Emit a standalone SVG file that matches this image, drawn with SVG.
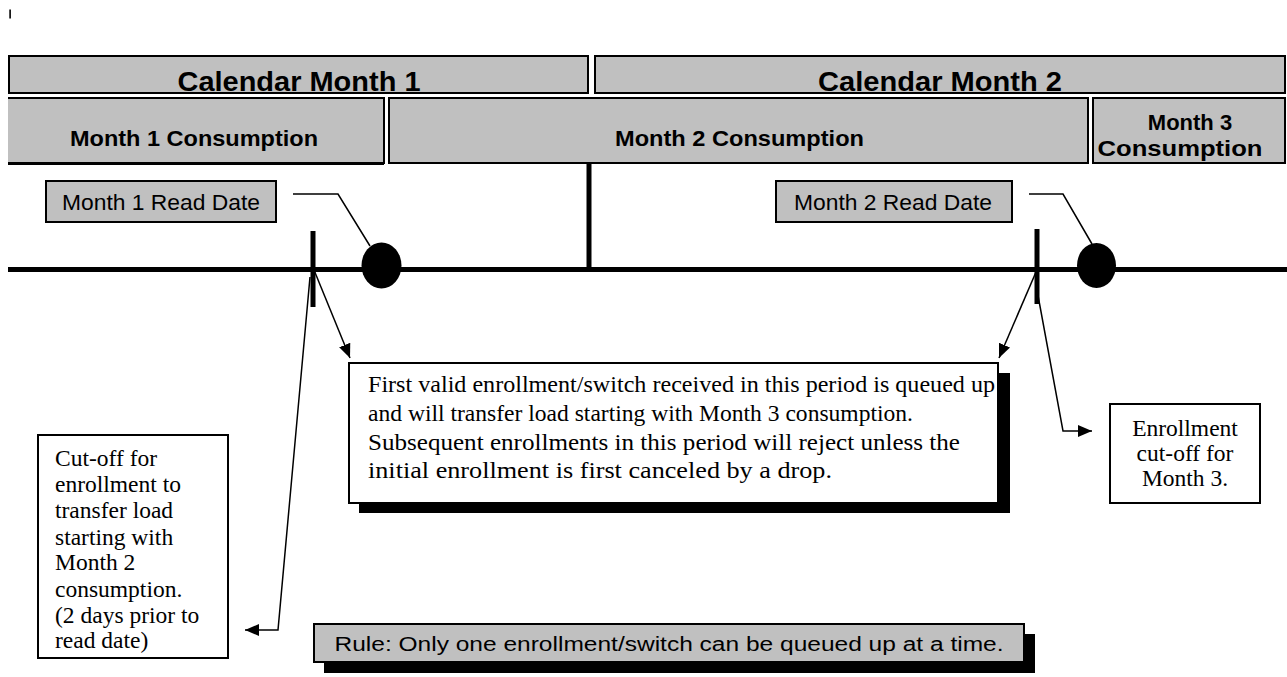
<svg xmlns="http://www.w3.org/2000/svg" width="1287" height="677" viewBox="0 0 1287 677">
<style>
.gray{fill:#c0c0c0;stroke:#000;stroke-width:2}
.wbox{fill:#fff;stroke:#000;stroke-width:2}
.shadow{fill:#000}
.hdr{font-family:"Liberation Sans",Arial,sans-serif;font-weight:bold;fill:#000;text-anchor:middle}
.lbl{font-family:"Liberation Sans",Arial,sans-serif;fill:#000}
.body{font-family:"Liberation Serif","Times New Roman",serif;fill:#000;font-size:23.5px}
.conn{fill:none;stroke:#000;stroke-width:1.5}
.heavy{fill:none;stroke:#000;stroke-width:5}
</style>
<defs>
<marker id="ah" markerUnits="userSpaceOnUse" markerWidth="15" markerHeight="12" refX="14" refY="6" orient="auto">
<path d="M0,0 L14,6 L0,12 z" fill="#000"/>
</marker>
</defs>
<rect width="1287" height="677" fill="#fff"/>
<rect x="9.3" y="9.5" width="1.6" height="9" fill="#000"/>

<g id="cal1">
<rect class="gray" x="9" y="56" width="579" height="37"/>
<text class="hdr" x="299" y="91" font-size="27" textLength="243" lengthAdjust="spacingAndGlyphs">Calendar Month 1</text>
</g>
<g id="cal2">
<rect class="gray" x="595" y="56" width="690" height="37"/>
<text class="hdr" x="940" y="91" font-size="27" textLength="244" lengthAdjust="spacingAndGlyphs">Calendar Month 2</text>
</g>
<g id="cons1">
<rect x="8" y="97" width="376" height="67" fill="#c0c0c0"/>
<path d="M8,98 H384 V163 H8" fill="none" stroke="#000" stroke-width="2"/>
<path d="M8,163.5 H384" stroke="#000" stroke-width="3"/>
<text class="hdr" x="194" y="146" font-size="22" textLength="248" lengthAdjust="spacingAndGlyphs">Month 1 Consumption</text>
</g>
<g id="cons2">
<rect class="gray" x="389" y="98" width="699" height="65"/>
<text class="hdr" x="739.5" y="146" font-size="22" textLength="249" lengthAdjust="spacingAndGlyphs">Month 2 Consumption</text>
</g>
<g id="cons3">
<rect class="gray" x="1093" y="98" width="192" height="65"/>
<text class="hdr" x="1190" y="130" font-size="22">Month 3</text>
<text class="hdr" x="1180" y="156" font-size="22" textLength="165" lengthAdjust="spacingAndGlyphs">Consumption</text>
</g>

<g id="read1">
<rect class="gray" x="46" y="181" width="230" height="41"/>
<text class="lbl" x="161" y="210" font-size="22" text-anchor="middle" textLength="198" lengthAdjust="spacingAndGlyphs">Month 1 Read Date</text>
</g>
<g id="read2">
<rect class="gray" x="776" y="181" width="236" height="41"/>
<text class="lbl" x="893" y="210" font-size="22" text-anchor="middle" textLength="198" lengthAdjust="spacingAndGlyphs">Month 2 Read Date</text>
</g>

<g id="timeline">
<line class="heavy" x1="8" y1="269.5" x2="1287" y2="269.5"/>
<line class="heavy" x1="589" y1="164" x2="589" y2="269"/>
<line class="heavy" x1="313" y1="231" x2="313" y2="307"/>
<line class="heavy" x1="1037" y1="229" x2="1037" y2="304"/>
<ellipse cx="381.5" cy="265.5" rx="20" ry="23" fill="#000"/>
<ellipse cx="1096.5" cy="265.5" rx="19.5" ry="22.5" fill="#000"/>
</g>

<g id="main">
<rect class="shadow" x="359" y="373" width="651" height="140"/>
<rect class="wbox" x="349" y="363" width="649" height="140"/>
<text class="body" x="368" y="392" textLength="627" lengthAdjust="spacingAndGlyphs">First valid enrollment/switch received in this period is queued up</text>
<text class="body" x="368" y="421" textLength="545" lengthAdjust="spacingAndGlyphs">and will transfer load starting with Month 3 consumption.</text>
<text class="body" x="368" y="450" textLength="592" lengthAdjust="spacingAndGlyphs">Subsequent enrollments in this period will reject unless  the</text>
<text class="body" x="368" y="478" textLength="464" lengthAdjust="spacingAndGlyphs">initial enrollment is first canceled by a drop.</text>
</g>

<g id="enroll3">
<rect class="wbox" x="1110" y="404" width="150" height="99"/>
<text class="body" x="1185" y="436" text-anchor="middle">Enrollment</text>
<text class="body" x="1185" y="461" text-anchor="middle">cut-off for</text>
<text class="body" x="1185" y="486" text-anchor="middle">Month 3.</text>
</g>

<g id="cutoff">
<rect class="wbox" x="38" y="435" width="190" height="223"/>
<text class="body" x="55" y="466">Cut-off for</text>
<text class="body" x="55" y="492">enrollment to</text>
<text class="body" x="55" y="518">transfer load</text>
<text class="body" x="55" y="545">starting with</text>
<text class="body" x="55" y="570">Month 2</text>
<text class="body" x="55" y="597">consumption.</text>
<text class="body" x="55" y="623">(2 days prior to</text>
<text class="body" x="55" y="648">read date)</text>
</g>

<g id="rule">
<rect class="shadow" x="324" y="634" width="711" height="39"/>
<rect class="gray" x="314" y="624" width="710" height="38"/>
<text class="lbl" x="669" y="651" font-size="20" text-anchor="middle" textLength="669" lengthAdjust="spacingAndGlyphs">Rule:  Only one enrollment/switch can be queued up at a time.</text>
</g>

<g id="connectors">
<polyline class="conn" points="293,194 338,194 370,246"/>
<polyline class="conn" points="1029,194 1063,194 1092,244"/>
<line class="conn" x1="314" y1="270" x2="350" y2="358" marker-end="url(#ah)"/>
<line class="conn" x1="1036" y1="272" x2="999" y2="358" marker-end="url(#ah)"/>
<polyline class="conn" points="310,277 278,630 245,630" marker-end="url(#ah)"/>
<polyline class="conn" points="1037,290 1063,431 1092,431" marker-end="url(#ah)"/>
</g>
</svg>
